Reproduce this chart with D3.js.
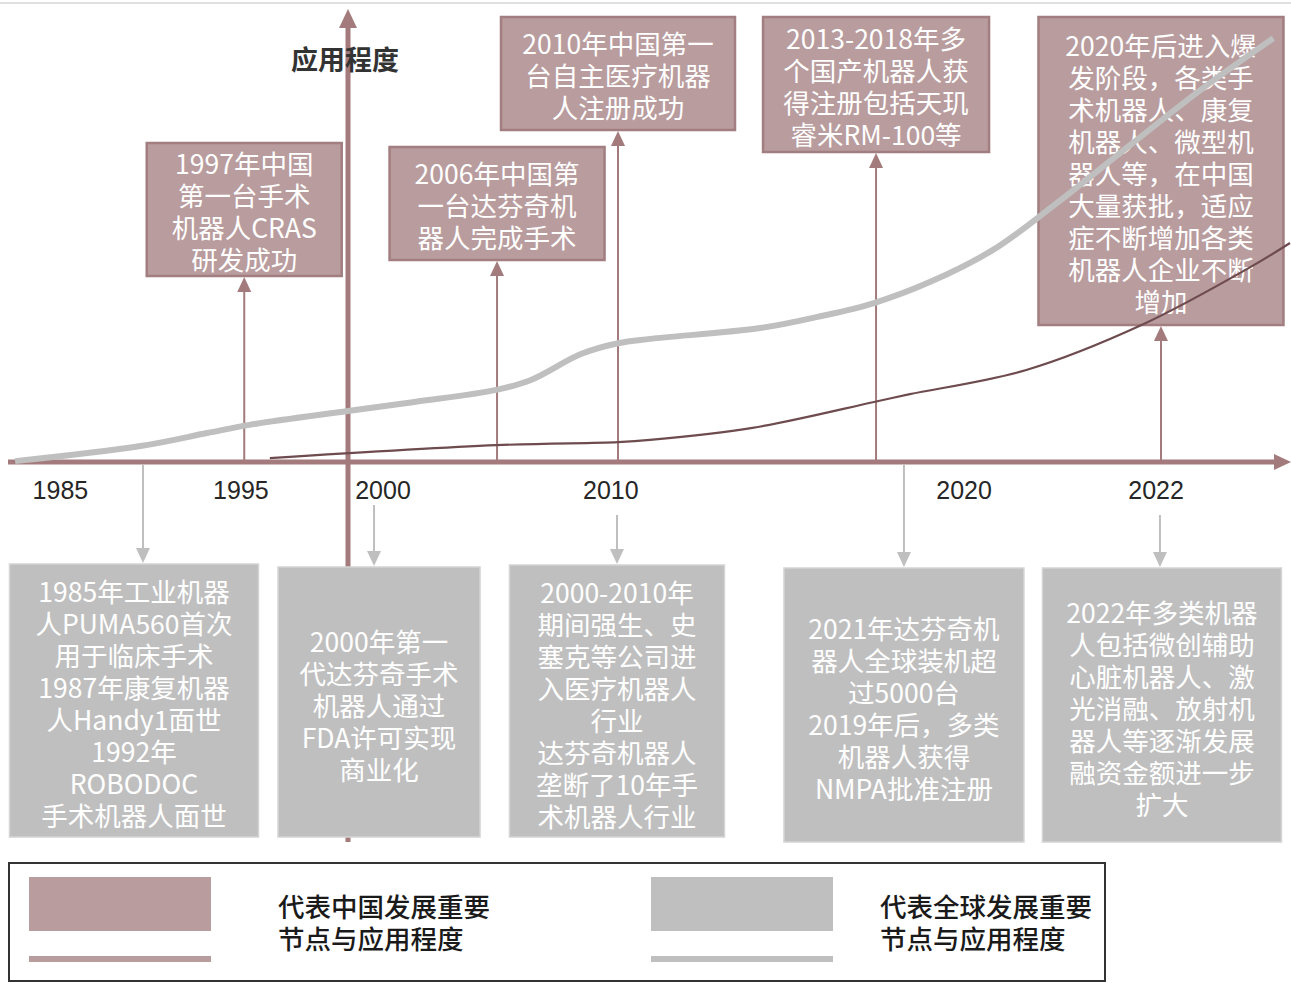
<!DOCTYPE html>
<html>
<head>
<meta charset="utf-8">
<script src="https://cdn.jsdelivr.net/npm/d3@7"></script>
<style>
  body { margin: 0; background: #fff; }
  svg { display: block; }
</style>
</head>
<body>
<div id="chart"></div>
<script>
// 时间轴刻度（位置为时间轴上的相对位置 0-100）
const tickLabels = ["1985", "1995", "2000", "2010", "2020", "2022"];
const tickPos = [3.9, 18.0, 29.1, 46.9, 74.5, 89.5];

// 全球应用程度曲线
const globalT = [0.4, 10.2, 15.4, 18.7, 26.4, 31.6, 38.0, 40.7, 44.6, 47.5, 50.0, 58.6, 63.1, 67.5, 71.9, 76.8, 81.6, 87.7, 93.0, 98.7];
const globalLevel = [0.2, 3.7, 6.7, 8.6, 11.8, 13.9, 16.7, 19.0, 25.0, 27.5, 28.5, 31.0, 33.6, 36.8, 41.7, 49.1, 59.5, 73.8, 86.1, 98.1];

// 中国应用程度曲线
const chinaT = [20.3, 38.0, 47.5, 50.0, 58.0, 67.5, 70.3, 79.4, 88.4, 96.9, 100];
const chinaLevel = [0.9, 3.9, 4.6, 5.1, 7.9, 13.9, 15.7, 21.3, 31.7, 45.1, 50.7];

// 中国发展重要节点
const chinaEventPos = [18.3, 38.05, 47.5, 67.66, 89.92];
const chinaEventText = [
  ["1997年中国", "第一台手术", "机器人CRAS", "研发成功"],
  ["2006年中国第", "一台达芬奇机", "器人完成手术"],
  ["2010年中国第一", "台自主医疗机器", "人注册成功"],
  ["2013-2018年多", "个国产机器人获", "得注册包括天玑", "睿米RM-100等"],
  ["2020年后进入爆", "发阶段，各类手", "术机器人、康复", "机器人、微型机", "器人等，在中国", "大量获批，适应", "症不断增加各类", "机器人企业不断", "增加"]
];

// 全球发展重要节点
const globalEventPos = [10.39, 28.44, 47.42, 69.84, 89.84];
const globalEventText = [
  ["1985年工业机器", "人PUMA560首次", "用于临床手术", "1987年康复机器", "人Handy1面世", "1992年", "ROBODOC", "手术机器人面世"],
  ["2000年第一", "代达芬奇手术", "机器人通过", "FDA许可实现", "商业化"],
  ["2000-2010年", "期间强生、史", "塞克等公司进", "入医疗机器人", "行业", "达芬奇机器人", "垄断了10年手", "术机器人行业"],
  ["2021年达芬奇机", "器人全球装机超", "过5000台", "2019年后，多类", "机器人获得", "NMPA批准注册"],
  ["2022年多类机器", "人包括微创辅助", "心脏机器人、激", "光消融、放射机", "器人等逐渐发展", "融资金额进一步", "扩大"]
];

const legendLabels = [["代表中国发展重要", "节点与应用程度"], ["代表全球发展重要", "节点与应用程度"]];

// 样式与布局
const W = 1291, H = 983;
const axisY = 462, vAxisX = 348;
const pink = "#b99c9e", pinkEdge = "#a27e80", axisColor = "#a37b7c";
const chinaColor = "#6e4b4e", grey = "#bfbfbf";
const cjk = "'Noto Sans CJK SC', 'Noto Sans', sans-serif";
const lineH = 32;
const boxFont = "26.5px";

const topLayout = [
  { w: 195, top: 143, h: 133 },
  { w: 215, top: 147, h: 113 },
  { w: 234, top: 17, h: 113 },
  { w: 226, top: 17, h: 135 },
  { w: 245, top: 17, h: 308 }
];
const bottomLayout = [
  { w: 249, top: 564, h: 273, dx: -9, from: 465 },
  { w: 202, top: 567, h: 270, dx: 5, from: 505 },
  { w: 215, top: 565, h: 272, dx: 0, from: 515 },
  { w: 240, top: 568, h: 274, dx: 0, from: 465 },
  { w: 239, top: 568, h: 274, dx: 2, from: 515 }
];

const svg = d3.select("#chart").append("svg")
  .attr("width", W).attr("height", H);

const x = d3.scaleLinear().domain([0, 100]).range([10, 1290]);
const y = d3.scaleLinear().domain([0, 100]).range([axisY, 30]);

// 顶部细线
svg.append("line").attr("x1", 0).attr("x2", W).attr("y1", 3).attr("y2", 3)
  .attr("stroke", "#d6d6d6").attr("stroke-width", 1.5);

// 纵轴
svg.append("line").attr("x1", vAxisX).attr("x2", vAxisX).attr("y1", 26).attr("y2", 842)
  .attr("stroke", axisColor).attr("stroke-width", 5);
svg.append("path").attr("d", `M${vAxisX - 9},28 L${vAxisX},9 L${vAxisX + 9},28 Z`).attr("fill", axisColor);

svg.append("text").attr("x", 345).attr("y", 58)
  .attr("text-anchor", "middle").attr("dominant-baseline", "central")
  .style("font-family", cjk).style("font-size", "27px").style("font-weight", "bold")
  .attr("fill", "#333").text("应用程度");

// 横轴
svg.append("line").attr("x1", 8).attr("x2", 1278).attr("y1", axisY).attr("y2", axisY)
  .attr("stroke", axisColor).attr("stroke-width", 5);
svg.append("path").attr("d", `M1274,${axisY - 8} L1291,${axisY} L1274,${axisY + 8} Z`).attr("fill", axisColor);

const xAxis = svg.append("g")
  .attr("transform", `translate(0,${axisY + 16})`)
  .call(d3.axisBottom(x).tickValues(tickPos).tickSize(0).tickFormat((d, i) => tickLabels[i]));
xAxis.select(".domain").remove();
xAxis.selectAll("text")
  .style("font-family", "'Liberation Sans', Arial, sans-serif")
  .style("font-size", "25px").attr("fill", "#262626");

// 箭头
function arrowHead(g, cx, tipY, dir, color) {
  const s = 7, l = 15 * dir;
  g.append("path").attr("d", `M${cx - s},${tipY + l} L${cx},${tipY} L${cx + s},${tipY + l} Z`).attr("fill", color);
}

// 中国节点：箭头 + 方框
chinaEventText.forEach((lines, i) => {
  const cx = x(chinaEventPos[i]);
  const L = topLayout[i];
  const g = svg.append("g");
  g.append("line").attr("x1", cx).attr("x2", cx).attr("y1", axisY).attr("y2", L.top + L.h + 10)
    .attr("stroke", axisColor).attr("stroke-width", 2);
  arrowHead(g, cx, L.top + L.h + 1, 1, axisColor);
  g.append("rect").attr("x", cx - L.w / 2).attr("y", L.top).attr("width", L.w).attr("height", L.h)
    .attr("fill", pink).attr("stroke", pinkEdge).attr("stroke-width", 2.5);
  const midY = L.top + L.h / 2 + 1;
  g.selectAll("text").data(lines).enter().append("text")
    .attr("x", cx).attr("y", (d, j) => midY + (j - (lines.length - 1) / 2) * lineH)
    .attr("text-anchor", "middle").attr("dominant-baseline", "central")
    .style("font-family", cjk).style("font-size", boxFont).attr("fill", "#fff")
    .text(d => d);
});

// 全球节点：箭头 + 方框
globalEventText.forEach((lines, i) => {
  const ax = x(globalEventPos[i]);
  const L = bottomLayout[i];
  const cx = ax + L.dx;
  const g = svg.append("g");
  g.append("line").attr("x1", ax).attr("x2", ax).attr("y1", L.from).attr("y2", L.top - 10)
    .attr("stroke", grey).attr("stroke-width", 2);
  arrowHead(g, ax, L.top - 1, -1, grey);
  g.append("rect").attr("x", cx - L.w / 2).attr("y", L.top).attr("width", L.w).attr("height", L.h)
    .attr("fill", grey).attr("stroke", "#d4d4d4").attr("stroke-width", 1.5);
  const midY = L.top + L.h / 2 + 2;
  g.selectAll("text").data(lines).enter().append("text")
    .attr("x", cx).attr("y", (d, j) => midY + (j - (lines.length - 1) / 2) * lineH)
    .attr("text-anchor", "middle").attr("dominant-baseline", "central")
    .style("font-family", cjk).style("font-size", boxFont).attr("fill", "#fff")
    .text(d => d);
});

// 应用程度曲线
const line = d3.line().x(d => x(d[0])).y(d => y(d[1])).curve(d3.curveCatmullRom.alpha(0.5));

svg.append("path").datum(globalT.map((t, i) => [t, globalLevel[i]]))
  .attr("d", line).attr("fill", "none").attr("stroke", grey).attr("stroke-width", 6);

svg.append("path").datum(chinaT.map((t, i) => [t, chinaLevel[i]]))
  .attr("d", line).attr("fill", "none").attr("stroke", chinaColor).attr("stroke-width", 2.2);

// 图例
const legend = svg.append("g");
legend.append("rect").attr("x", 9).attr("y", 863).attr("width", 1096).attr("height", 118)
  .attr("fill", "none").attr("stroke", "#333").attr("stroke-width", 2);

[pink, grey].forEach((c, i) => {
  const lx = 29 + i * 622;
  legend.append("rect").attr("x", lx).attr("y", 877).attr("width", 182).attr("height", 54).attr("fill", c);
  legend.append("rect").attr("x", lx).attr("y", 956).attr("width", 182).attr("height", 6).attr("fill", c);
  legend.selectAll(null).data(legendLabels[i]).enter().append("text")
    .attr("x", 278 + i * 602).attr("y", (d, j) => 905 + j * 32)
    .attr("dominant-baseline", "central")
    .style("font-family", cjk).style("font-size", "26.5px").style("font-weight", 500).attr("fill", "#1a1a1a")
    .text(d => d);
});
</script>
</body>
</html>
